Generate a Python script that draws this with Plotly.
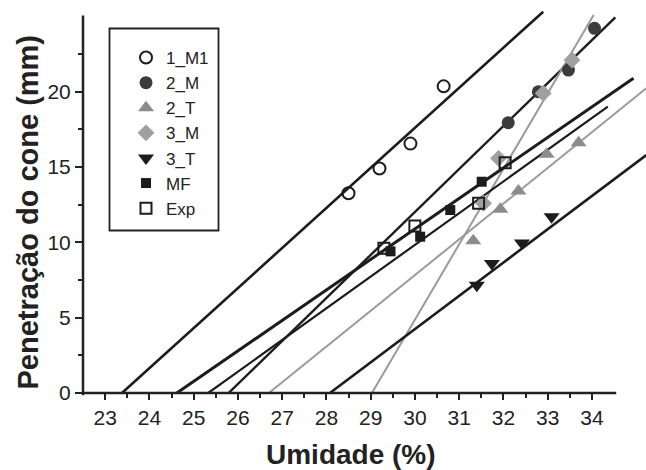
import plotly.graph_objects as go

# ---- measured points: moisture (%) vs cone penetration (mm) ----
series_names = ["1_M1", "2_M", "2_T", "3_M", "3_T", "MF", "Exp"]

m1_x = [28.5, 29.2, 29.9, 30.65]
m1_y = [13.25, 14.9, 16.55, 20.35]

m2_x = [32.11, 32.79, 33.47, 34.06]
m2_y = [17.94, 19.99, 21.43, 24.2]

t2_x = [31.32, 31.93, 32.34, 32.98, 33.7]
t2_y = [10.1, 12.2, 13.4, 15.85, 16.6]

m3_x = [31.55, 31.89, 32.9, 33.55]
m3_y = [12.59, 15.57, 19.89, 22.1]

t3_x = [31.4, 31.74, 32.42, 33.09]
t3_y = [7.15, 8.6, 9.95, 11.7]

mf_x = [29.45, 30.12, 30.8, 31.51]
mf_y = [9.4, 10.37, 12.14, 14.02]

exp_x = [29.3, 30.0, 31.44, 32.04]
exp_y = [9.6, 11.08, 12.59, 15.28]

# ---- fitted straight lines: x where penetration = 0, and the far end point ----
fit_x_start = [23.38, 25.79, 26.7, 29.03, 28.08, 24.62, 25.33]
fit_x_end = [32.9, 34.53, 35.23, 34.04, 35.23, 34.94, 34.36]
fit_y_end = [25.3, 24.93, 20.22, 25.08, 15.79, 20.88, 19.0]

# ---- axis ticks ----
x_ticks = list(range(23, 35))
x_minor = [23.5 + i for i in range(11)]
y_ticks = [0, 5, 10, 15, 20]
y_minor = [2.5, 7.5, 12.5, 17.5, 22.5]

# ---- styling ----
BLACK = "#1c1c1c"
GREY = "#9a9a9a"
styles = {
    "1_M1": dict(symbol="circle-open", size=12, color=BLACK, line=dict(width=2, color=BLACK)),
    "2_M": dict(symbol="circle", size=13, color="#3c3c3c"),
    "2_T": dict(symbol="triangle-up", size=14, color="#8c8c8c"),
    "3_M": dict(symbol="diamond", size=13, color="#a0a0a0"),
    "3_T": dict(symbol="triangle-down", size=14, color=BLACK),
    "MF": dict(symbol="square", size=10, color=BLACK),
    "Exp": dict(symbol="square-open", size=11, color=BLACK, line=dict(width=2, color=BLACK)),
}
line_styles = {
    "1_M1": (BLACK, 2.6),
    "2_M": (BLACK, 2.4),
    "2_T": (GREY, 2.0),
    "3_M": (GREY, 2.0),
    "3_T": (BLACK, 2.6),
    "MF": (BLACK, 3.0),
    "Exp": (BLACK, 2.2),
}

points = {
    "1_M1": (m1_x, m1_y),
    "2_M": (m2_x, m2_y),
    "2_T": (t2_x, t2_y),
    "3_M": (m3_x, m3_y),
    "3_T": (t3_x, t3_y),
    "MF": (mf_x, mf_y),
    "Exp": (exp_x, exp_y),
}

fig = go.Figure()

# fitted lines underneath the markers
for name, xs, xe, ye in zip(series_names, fit_x_start, fit_x_end, fit_y_end):
    color, width = line_styles[name]
    fig.add_trace(go.Scatter(
        x=[xs, xe], y=[0, ye], mode="lines",
        line=dict(color=color, width=width),
        showlegend=False, hoverinfo="skip",
    ))

for name in series_names:
    xs, ys = points[name]
    fig.add_trace(go.Scatter(
        x=xs, y=ys, mode="markers", name=name,
        marker=styles[name], cliponaxis=False,
    ))

# ---- geometry (pixels) ----
W, H = 646, 470
L, R, T, B = 83, 0, 5, 77
PX_PER_X = 44.25
PX_PER_Y = 15.07
plot_w = W - L - R
plot_h = H - T - B
x_range = [22.5, 22.5 + plot_w / PX_PER_X]
y_range = [0, plot_h / PX_PER_Y]


def px_to_paper(px, py):
    return (px - L) / plot_w, (H - B - py) / plot_h


def x_to_paper(v):
    return (v - x_range[0]) / (x_range[1] - x_range[0])


def y_to_paper(v):
    return (v - y_range[0]) / (y_range[1] - y_range[0])


AXIS_COLOR = "#222222"
shapes = [
    # bottom axis line
    dict(type="line", xref="paper", yref="paper",
         x0=x_to_paper(22.5), x1=x_to_paper(34.55), y0=0, y1=0,
         line=dict(color=AXIS_COLOR, width=2.5)),
    # left axis line
    dict(type="line", xref="paper", yref="paper",
         x0=0, x1=0, y0=y_to_paper(-0.15), y1=y_to_paper(25.05),
         line=dict(color=AXIS_COLOR, width=2.5)),
]
# legend frame
lx0, ly0 = px_to_paper(109.5, 28.5)
lx1, ly1 = px_to_paper(218.5, 230.5)
shapes.append(dict(type="rect", xref="paper", yref="paper",
                   x0=lx0, x1=lx1, y0=ly1, y1=ly0,
                   line=dict(color=AXIS_COLOR, width=1.8), fillcolor="rgba(0,0,0,0)"))

leg_x, leg_y = px_to_paper(126, 40)
tx, ty = px_to_paper(351, 455)
yx, yy = px_to_paper(27, 212.5)

FONT = "Liberation Sans, Arial, sans-serif"

fig.update_layout(
    width=W, height=H,
    margin=dict(l=L, r=R, t=T, b=B, pad=0),
    paper_bgcolor="white", plot_bgcolor="white",
    font=dict(family=FONT, color=AXIS_COLOR),
    shapes=shapes,
    showlegend=True,
    legend=dict(
        x=leg_x, y=leg_y, xanchor="left", yanchor="top",
        bgcolor="rgba(0,0,0,0)", borderwidth=0,
        font=dict(family=FONT, size=17, color=AXIS_COLOR),
        tracegroupgap=0, itemsizing="trace",
    ),
    annotations=[
        dict(text="<b>Umidade (%)</b>", xref="paper", yref="paper", x=tx, y=ty,
             xanchor="center", yanchor="middle", showarrow=False,
             font=dict(family=FONT, size=28, color=AXIS_COLOR)),
        dict(text="<b>Penetração do cone (mm)</b>", xref="paper", yref="paper", x=yx, y=yy,
             xanchor="center", yanchor="middle", showarrow=False, textangle=-90,
             font=dict(family=FONT, size=29, color=AXIS_COLOR)),
    ],
)

fig.update_xaxes(
    range=x_range, showgrid=False, zeroline=False, showline=False,
    tickmode="array", tickvals=x_ticks, ticktext=[str(v) for v in x_ticks],
    ticks="outside", ticklen=6, tickwidth=2, tickcolor=AXIS_COLOR,
    minor=dict(tickvals=x_minor, ticks="outside", ticklen=4, tickwidth=1.5, tickcolor=AXIS_COLOR),
    tickfont=dict(family=FONT, size=21, color=AXIS_COLOR),
)
fig.update_yaxes(
    range=y_range, showgrid=False, zeroline=False, showline=False,
    tickmode="array", tickvals=y_ticks, ticktext=[str(v) for v in y_ticks],
    ticks="outside", ticklen=7, tickwidth=2, tickcolor=AXIS_COLOR,
    minor=dict(tickvals=y_minor, ticks="outside", ticklen=4, tickwidth=1.5, tickcolor=AXIS_COLOR),
    tickfont=dict(family=FONT, size=21, color=AXIS_COLOR),
)

fig.write_html("out.html")
